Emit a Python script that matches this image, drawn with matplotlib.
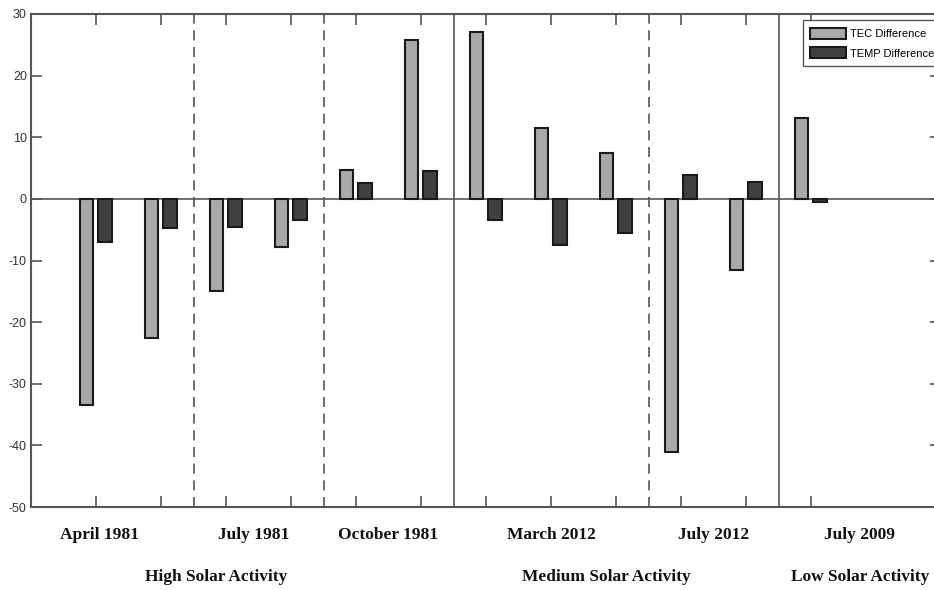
import matplotlib
matplotlib.use("Agg")
import matplotlib.pyplot as plt
import numpy as np

# Data
positions = [1, 2, 3, 4, 5, 6, 7, 8, 9, 10, 11, 12]
tec_diff = [-33.5, -22.5, -15.0, -7.8, 4.7, 25.8, 27.0, 11.5, 7.5, -41.0, -11.5, 13.2]
temp_diff = [-7.0, -4.8, -4.5, -3.5, 2.5, 4.5, -3.5, -7.5, -5.5, 3.8, 2.8, -0.5]
yticks = [30, 20, 10, 0, -10, -20, -30, -40, -50]
dashed_separators = [2.5, 4.5, 9.5]
solid_separators = [6.5, 11.5]
month_labels = ["April 1981", "July 1981", "October 1981", "March 2012", "July 2012", "July 2009"]
month_label_x = [1.06, 3.43, 5.5, 8.0, 10.5, 12.75]
activity_labels = ["High Solar Activity", "Medium Solar Activity", "Low Solar Activity"]
activity_label_x = [2.85, 8.85, 12.75]

fig = plt.figure(figsize=(9.34, 5.9), dpi=100)
ax = fig.add_axes([31/934, 83/590, 910/934, 493/590])

pos = np.array(positions, dtype=float)
w = 0.21
ax.bar(pos - 0.145, tec_diff, width=w, color="#a9a9a9", edgecolor="#1a1a1a",
       linewidth=1.5, label="TEC Difference", zorder=3)
ax.bar(pos + 0.14, temp_diff, width=w, color="#404040", edgecolor="#1a1a1a",
       linewidth=1.5, label="TEMP Difference", zorder=3)

ax.axhline(0, color="#555555", linewidth=1.2, zorder=2)
for x in dashed_separators:
    ax.axvline(x, color="#555555", linewidth=1.2, linestyle=(0, (6, 4)), zorder=1)
for x in solid_separators:
    ax.axvline(x, color="#555555", linewidth=1.2, zorder=1)

ax.set_xlim(0, 14)
ax.set_ylim(-50, 30)
ax.set_yticks(yticks)
ax.set_yticklabels([str(v) for v in yticks], fontsize=9, family="Liberation Sans", color="#333333")
ax.set_xticks(positions)
ax.set_xticklabels([])
ax.tick_params(axis="both", direction="in", length=8, width=1.2, color="#555555",
               top=True, right=True, pad=3)
for s in ax.spines.values():
    s.set_color("#555555")
    s.set_linewidth(1.5)

for lab, x in zip(month_labels, month_label_x):
    ax.text(x, -54.5, lab, ha="center", va="center", fontsize=12.5,
            family="Liberation Serif", fontweight="bold", color="#111111")
for lab, x in zip(activity_labels, activity_label_x):
    ax.text(x, -61.3, lab, ha="center", va="center", fontsize=12.5,
            family="Liberation Serif", fontweight="bold", color="#111111")

leg = ax.legend(loc="upper left", bbox_to_anchor=(0.848, 0.988), borderaxespad=0,
                prop={"family": "Liberation Sans", "size": 8}, fancybox=False,
                edgecolor="#555555", framealpha=1, handlelength=3.2, handleheight=1.15,
                handletextpad=0.4, labelspacing=0.75, borderpad=0.7)
leg.get_frame().set_linewidth(1.0)

fig.savefig("out.png", dpi=100)
